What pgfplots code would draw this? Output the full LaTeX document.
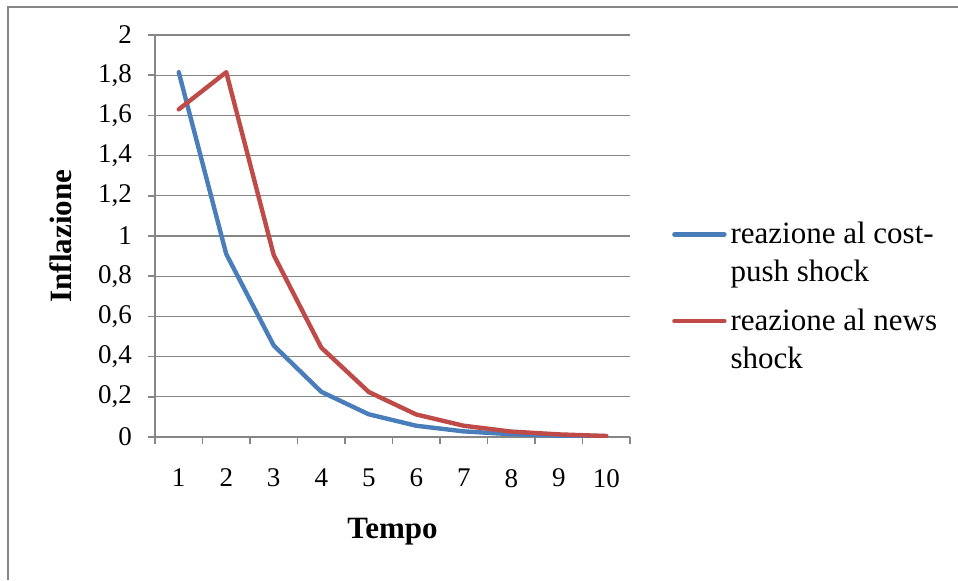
\documentclass[border=0pt]{standalone}
\usepackage{fontspec}
\setmainfont{Liberation Serif}
\usepackage{pgfplots}
\pgfplotsset{compat=1.18}
\definecolor{xblue}{RGB}{74,126,187}
\definecolor{xred}{RGB}{190,75,72}
\definecolor{xgray}{RGB}{134,134,134}
\begin{document}
\begin{tikzpicture}
\useasboundingbox (-77.5pt,-71.5pt) rectangle (401.5pt,218.5pt);
\draw[xgray, line width=1pt] (-73.5pt,-71.5pt) -- (-73.5pt,215.25pt) -- (401.5pt,215.25pt);
\begin{axis}[
  at={(0,0)}, anchor=south west,
  scale only axis, width=237.5pt, height=201pt,
  xmin=0.5, xmax=10.5, ymin=0, ymax=2,
  axis x line=bottom, axis y line=left,
  axis line style={-, xgray, line width=1pt},
  xtick={1,...,10},
  minor xtick={0.5,1.5,...,10.5},
  ytick={0,0.2,0.4,0.6,0.8,1,1.2,1.4,1.6,1.8,2},
  tick align=outside,
  major tick length=3.5pt, minor tick length=3.5pt,
  x tick style={draw=none},
  minor x tick style={draw=xgray, line width=0.8pt},
  y tick style={xgray, line width=0.8pt},
  ymajorgrids, grid style={xgray, line width=0.6pt},
  /pgf/number format/use comma,
  /pgf/number format/assume math mode=true,
  tick label style={font=\fontsize{13.5}{15}\selectfont, black},
  xticklabel style={yshift=-9pt},
  yticklabel style={xshift=-4.5pt},
  xlabel={\textbf{Tempo}}, ylabel={\textbf{Inflazione}},
  label style={font=\fontsize{15.5}{18}\selectfont},
  xlabel style={at={(axis description cs:0.5,-0.236)}, anchor=center},
  ylabel style={at={(axis description cs:-0.198,0.5)}, anchor=center},
  legend style={at={(axis description cs:1.088,0.545)}, anchor=north west,
    draw=none, fill=none, inner sep=0pt, row sep=8pt,
    font=\fontsize{15.5}{19}\selectfont, cells={align=left}},
  legend cell align=left,
  legend image code/.code={\draw[#1] (0pt,9.5pt) -- (25pt,9.5pt);},
]
\addplot[xblue, line width=2.2pt, line join=round, line cap=round] coordinates {
 (1,1.815) (2,0.91) (3,0.455) (4,0.225) (5,0.113) (6,0.056) (7,0.028) (8,0.014) (9,0.007) (10,0.004)};
\addlegendentry{reazione al cost-\\push shock}
\addplot[xred, line width=2.2pt, line join=round, line cap=round] coordinates {
 (1,1.63) (2,1.815) (3,0.905) (4,0.445) (5,0.224) (6,0.112) (7,0.056) (8,0.027) (9,0.013) (10,0.005)};
\addlegendentry{reazione al news\\shock}
\end{axis}
\end{tikzpicture}
\end{document}
